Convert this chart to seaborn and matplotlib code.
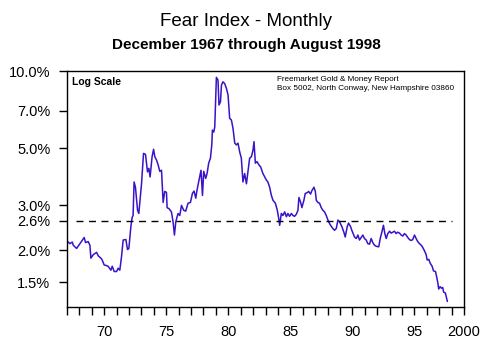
import matplotlib
matplotlib.use("Agg")
import matplotlib.pyplot as plt
import seaborn as sns
import pandas as pd
from matplotlib.ticker import FixedLocator, FixedFormatter, NullLocator

# Fear Index (Prozent)
years = [
    1967.06, 1967.24, 1967.43, 1967.51, 1967.78, 1968.05, 1968.39, 1968.50, 1968.71, 1968.85,
    1968.93, 1969.12, 1969.39, 1969.52, 1969.74, 1969.84, 1970.00, 1970.19, 1970.32, 1970.54,
    1970.65, 1970.81, 1971.00, 1971.13, 1971.26, 1971.40, 1971.53, 1971.75, 1971.88, 1971.99,
    1972.15, 1972.25, 1972.33, 1972.41, 1972.52, 1972.69, 1972.79, 1973.01, 1973.17, 1973.33,
    1973.49, 1973.60, 1973.70, 1973.86, 1973.98, 1974.08, 1974.22, 1974.35, 1974.48, 1974.62,
    1974.75, 1974.88, 1975.02, 1975.07, 1975.23, 1975.42, 1975.55, 1975.66, 1975.77, 1975.95,
    1976.09, 1976.23, 1976.41, 1976.57, 1976.76, 1976.95, 1977.11, 1977.24, 1977.38, 1977.48,
    1977.64, 1977.80, 1977.92, 1978.02, 1978.18, 1978.29, 1978.42, 1978.56, 1978.67, 1978.72,
    1978.83, 1978.91, 1979.04, 1979.17, 1979.25, 1979.37, 1979.45, 1979.57, 1979.71, 1979.85,
    1979.98, 1980.11, 1980.25, 1980.38, 1980.52, 1980.65, 1980.78, 1980.92, 1981.05, 1981.18,
    1981.32, 1981.46, 1981.59, 1981.72, 1981.86, 1981.99, 1982.07, 1982.18, 1982.31, 1982.47,
    1982.61, 1982.79, 1982.93, 1983.07, 1983.19, 1983.33, 1983.47, 1983.60, 1983.79, 1983.95,
    1984.06, 1984.14, 1984.27, 1984.40, 1984.54, 1984.68, 1984.80, 1984.94, 1985.08, 1985.21,
    1985.34, 1985.48, 1985.61, 1985.69, 1985.83, 1985.93, 1986.09, 1986.20, 1986.36, 1986.47,
    1986.63, 1986.73, 1986.90, 1987.01, 1987.09, 1987.22, 1987.35, 1987.49, 1987.62, 1987.76,
    1987.89, 1988.08, 1988.24, 1988.42, 1988.56, 1988.70, 1988.83, 1988.96, 1989.15, 1989.31,
    1989.42, 1989.58, 1989.69, 1989.85, 1989.95, 1990.11, 1990.17, 1990.31, 1990.44, 1990.57,
    1990.71, 1990.84, 1990.97, 1991.11, 1991.24, 1991.38, 1991.51, 1991.64, 1991.78, 1991.92,
    1992.12, 1992.24, 1992.37, 1992.50, 1992.61, 1992.72, 1992.85, 1992.99, 1993.12, 1993.25,
    1993.39, 1993.52, 1993.65, 1993.79, 1993.93, 1994.06, 1994.19, 1994.33, 1994.46, 1994.59,
    1994.73, 1994.86, 1995.00, 1995.13, 1995.26, 1995.40, 1995.54, 1995.66, 1995.80, 1995.94,
    1996.02, 1996.15, 1996.26, 1996.42, 1996.53, 1996.69, 1996.79, 1996.87, 1996.95, 1997.06,
    1997.17, 1997.27, 1997.35, 1997.49, 1997.60, 1997.65,
]
fear_pct = [
    2.16, 2.12, 2.15, 2.09, 2.03, 2.12, 2.24, 2.14, 2.16, 2.09,
    1.86, 1.92, 1.96, 1.90, 1.86, 1.83, 1.75, 1.74, 1.73, 1.67,
    1.73, 1.65, 1.65, 1.70, 1.67, 1.89, 2.19, 2.20, 2.01, 2.03,
    2.47, 2.68, 2.73, 3.69, 3.52, 2.86, 2.78, 3.63, 4.77, 4.73,
    4.04, 4.17, 3.86, 4.63, 4.95, 4.63, 4.49, 4.30, 4.06, 4.10,
    3.07, 3.39, 3.36, 2.93, 2.90, 2.82, 2.58, 2.29, 2.58, 2.78,
    2.73, 2.99, 2.86, 2.84, 3.05, 3.07, 3.33, 3.40, 3.19, 3.43,
    3.75, 4.10, 3.27, 4.06, 3.81, 3.98, 4.37, 4.57, 5.15, 5.88,
    5.78, 6.05, 9.45, 9.22, 7.37, 7.59, 8.82, 9.08, 8.93, 8.56,
    8.06, 6.54, 6.44, 5.97, 5.23, 5.15, 5.23, 4.83, 4.57, 3.69,
    3.98, 3.63, 4.06, 4.57, 4.63, 4.91, 5.30, 4.37, 4.43, 4.30,
    4.22, 3.98, 3.86, 3.75, 3.69, 3.52, 3.27, 3.13, 3.05, 2.86,
    2.66, 2.50, 2.78, 2.73, 2.82, 2.70, 2.78, 2.71, 2.78, 2.73,
    2.71, 2.76, 2.86, 3.21, 3.07, 2.93, 3.13, 3.33, 3.35, 3.39,
    3.31, 3.41, 3.52, 3.39, 3.13, 3.07, 3.05, 2.93, 2.86, 2.82,
    2.73, 2.58, 2.50, 2.43, 2.39, 2.43, 2.62, 2.58, 2.47, 2.35,
    2.25, 2.47, 2.55, 2.47, 2.39, 2.29, 2.25, 2.22, 2.29, 2.19,
    2.24, 2.29, 2.22, 2.19, 2.12, 2.11, 2.22, 2.14, 2.09, 2.07,
    2.06, 2.22, 2.35, 2.50, 2.32, 2.22, 2.32, 2.37, 2.33, 2.35,
    2.37, 2.32, 2.35, 2.33, 2.29, 2.27, 2.32, 2.29, 2.24, 2.20,
    2.18, 2.20, 2.29, 2.22, 2.16, 2.12, 2.09, 2.05, 1.99, 1.92,
    1.83, 1.84, 1.78, 1.73, 1.66, 1.65, 1.57, 1.50, 1.41, 1.44,
    1.42, 1.43, 1.37, 1.36, 1.29, 1.26,
]
reference_level = 2.6

y_ticks = [1.5, 2.0, 2.6, 3.0, 5.0, 7.0, 10.0]
y_tick_labels = ["1.5%", "2.0%", "2.6%", "3.0%", "5.0%", "7.0%", "10.0%"]
x_ticks = [1970, 1975, 1980, 1985, 1990, 1995, 1999]
x_tick_labels = ["70", "75", "80", "85", "90", "95", "2000"]

df = pd.DataFrame({"year": years, "fear": fear_pct})

sns.set_style("ticks")
plt.rcParams["font.family"] = ["Liberation Sans", "DejaVu Sans"]
plt.rcParams["text.color"] = "black"
plt.rcParams["xtick.color"] = "black"
plt.rcParams["ytick.color"] = "black"
plt.rcParams["axes.labelcolor"] = "black"

fig = plt.figure(figsize=(4.85, 3.5), dpi=100)
ax = fig.add_axes([0.138, 0.123, 0.819, 0.674])

sns.lineplot(data=df, x="year", y="fear", ax=ax, color="#3a12c8", linewidth=1.1)
ax.hlines(reference_level, 1967.7, 1998.0, colors="black", linestyles=(0, (5, 4)), linewidth=1.0)

ax.set_yscale("log")
ax.set_ylim(1.2, 10.0)
ax.set_xlim(1967, 1999)
ax.yaxis.set_major_locator(FixedLocator(y_ticks))
ax.yaxis.set_major_formatter(FixedFormatter(y_tick_labels))
ax.yaxis.set_minor_locator(NullLocator())
ax.xaxis.set_major_locator(FixedLocator(x_ticks))
ax.xaxis.set_major_formatter(FixedFormatter(x_tick_labels))
ax.xaxis.set_minor_locator(FixedLocator(list(range(1967, 2000))))
ax.tick_params(axis="both", which="both", direction="out", length=6, width=1.0, color="black")
ax.tick_params(axis="y", labelsize=10.5, pad=6)
ax.tick_params(axis="x", labelsize=10.5, pad=7)
for side in ["top", "right", "left", "bottom"]:
    ax.spines[side].set_visible(True)
    ax.spines[side].set_color("black")
    ax.spines[side].set_linewidth(1.0)
ax.set_xlabel("")
ax.set_ylabel("")

ax.text(0.012, 0.975, "Log Scale", transform=ax.transAxes, ha="left", va="top",
        fontsize=7.5, fontweight="bold")
ax.text(0.53, 0.98, "Freemarket Gold & Money Report\nBox 5002, North Conway, New Hampshire 03860",
        transform=ax.transAxes, ha="left", va="top", fontsize=5.9, linespacing=1.5)

fig.text(0.507, 0.94, "Fear Index - Monthly", ha="center", va="center", fontsize=13.5)
fig.text(0.507, 0.872, "December 1967 through August 1998", ha="center", va="center",
         fontsize=11, fontweight="bold")

plt.savefig("out.png", dpi=100)
plt.close()
